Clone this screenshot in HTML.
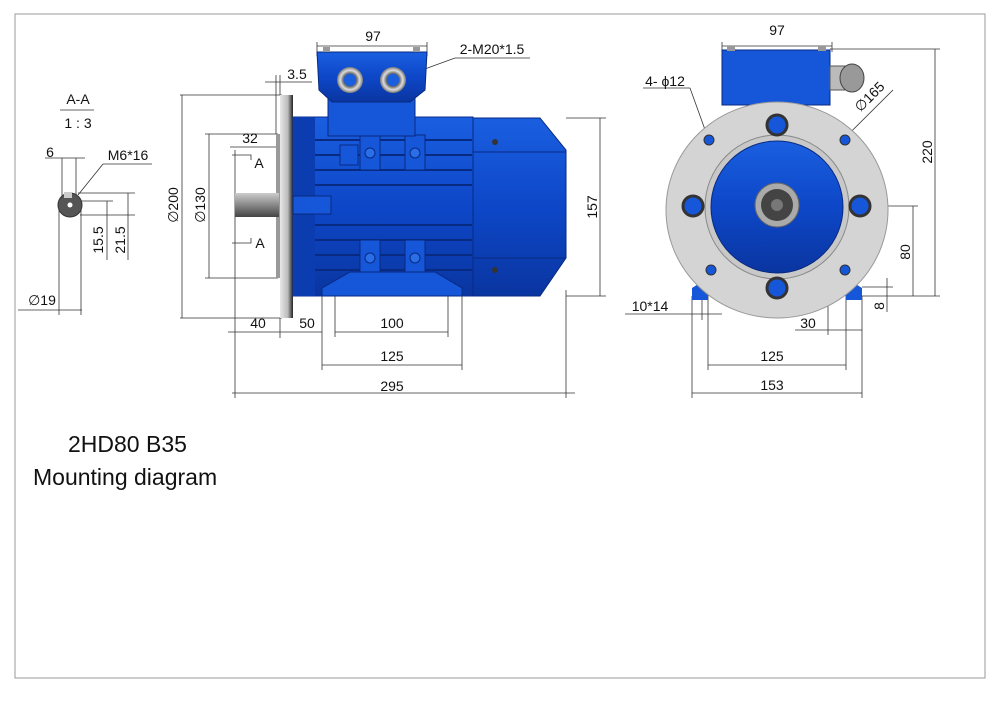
<!DOCTYPE html>
<html><head><meta charset="utf-8"><style>
html,body{margin:0;padding:0;background:#fff;}
svg{display:block;font-family:"Liberation Sans",sans-serif;}
</style></head><body>
<svg width="999" height="706" viewBox="0 0 999 706" xmlns="http://www.w3.org/2000/svg">
<defs>
<linearGradient id="fl" x1="0" x2="1"><stop offset="0" stop-color="#e8e8e8"/><stop offset="0.6" stop-color="#bbb"/><stop offset="1" stop-color="#222"/></linearGradient>
<linearGradient id="sh" x1="0" y1="0" x2="0" y2="1"><stop offset="0" stop-color="#ccc"/><stop offset="0.5" stop-color="#888"/><stop offset="1" stop-color="#444"/></linearGradient>
<linearGradient id="bl" x1="0" y1="0" x2="0" y2="1"><stop offset="0" stop-color="#1a5fe0"/><stop offset="0.5" stop-color="#0d47c8"/><stop offset="1" stop-color="#0a35a0"/></linearGradient>
<radialGradient id="gl"><stop offset="0.45" stop-color="#1a5fe0"/><stop offset="0.5" stop-color="#666"/><stop offset="0.75" stop-color="#ddd"/><stop offset="1" stop-color="#777"/></radialGradient>
</defs>
<rect x="15" y="14" width="970" height="664" fill="none" stroke="#999" stroke-width="1"/>

<g stroke="#333" stroke-width="0.8" fill="none">
<line x1="60" y1="110" x2="94" y2="110"/>
<line x1="62" y1="158" x2="62" y2="196"/><line x1="76" y1="158" x2="76" y2="196"/>
<line x1="45" y1="158" x2="85" y2="158"/>
<line x1="78" y1="195" x2="103" y2="164"/><line x1="103" y1="164" x2="152" y2="164"/>
<line x1="78" y1="193" x2="135" y2="193"/><line x1="78" y1="201" x2="113" y2="201"/>
<line x1="107" y1="201" x2="107" y2="260"/><line x1="128" y1="193" x2="128" y2="260"/>
<line x1="80" y1="215" x2="135" y2="215"/>
<line x1="59" y1="205" x2="59" y2="315"/><line x1="81" y1="205" x2="81" y2="315"/>
<line x1="18" y1="310" x2="82" y2="310"/>
<line x1="317" y1="46" x2="427" y2="46"/><line x1="317" y1="42" x2="317" y2="56"/><line x1="427" y1="42" x2="427" y2="56"/>
<line x1="455" y1="58" x2="530" y2="58"/><line x1="455" y1="58" x2="400" y2="78"/>
<line x1="265" y1="82" x2="312" y2="82"/><line x1="276" y1="75" x2="276" y2="134"/><line x1="280" y1="75" x2="280" y2="95"/>
<line x1="180" y1="95" x2="282" y2="95"/><line x1="180" y1="318" x2="282" y2="318"/><line x1="182" y1="95" x2="182" y2="318"/>
<line x1="205" y1="134" x2="278" y2="134"/><line x1="205" y1="278" x2="278" y2="278"/><line x1="209" y1="134" x2="209" y2="278"/>
<line x1="230" y1="147" x2="276" y2="147"/><line x1="235" y1="150" x2="235" y2="335"/>
<polyline points="232,155 251,155 251,160"/><polyline points="232,243 251,243 251,238"/>
<line x1="228" y1="332" x2="322" y2="332"/><line x1="280" y1="318" x2="280" y2="338"/>
<line x1="322" y1="296" x2="322" y2="370"/><line x1="335" y1="296" x2="335" y2="337"/><line x1="448" y1="296" x2="448" y2="337"/><line x1="462" y1="296" x2="462" y2="370"/>
<line x1="335" y1="332" x2="448" y2="332"/><line x1="322" y1="365" x2="462" y2="365"/>
<line x1="232" y1="393" x2="575" y2="393"/><line x1="235" y1="335" x2="235" y2="398"/><line x1="566" y1="290" x2="566" y2="398"/>
<line x1="566" y1="118" x2="606" y2="118"/><line x1="566" y1="296" x2="606" y2="296"/><line x1="600" y1="118" x2="600" y2="296"/>
<line x1="722" y1="46" x2="832" y2="46"/><line x1="722" y1="42" x2="722" y2="52"/><line x1="832" y1="42" x2="832" y2="52"/>
<line x1="830" y1="49" x2="940" y2="49"/><line x1="862" y1="296" x2="940" y2="296"/><line x1="935" y1="49" x2="935" y2="296"/>
<line x1="800" y1="206" x2="918" y2="206"/><line x1="913" y1="206" x2="913" y2="296"/>
<line x1="862" y1="287" x2="893" y2="287"/><line x1="887" y1="278" x2="887" y2="312"/>
<line x1="643" y1="88" x2="690" y2="88"/><line x1="690" y1="88" x2="708" y2="138"/>
<line x1="893" y1="90" x2="712" y2="270"/>
<line x1="625" y1="314" x2="722" y2="314"/><line x1="702" y1="290" x2="702" y2="320"/><line x1="708" y1="290" x2="708" y2="370"/>
<line x1="828" y1="290" x2="828" y2="335"/><line x1="846" y1="290" x2="846" y2="370"/><line x1="862" y1="296" x2="862" y2="398"/><line x1="692" y1="296" x2="692" y2="398"/>
<line x1="795" y1="330" x2="862" y2="330"/>
<line x1="708" y1="365" x2="846" y2="365"/><line x1="692" y1="393" x2="862" y2="393"/>
</g>

<circle cx="70" cy="205" r="12" fill="#555" stroke="#333"/>
<circle cx="70" cy="205" r="2.5" fill="#fff"/>
<rect x="64" y="192" width="8" height="6" fill="#ccc"/>

<rect x="276" y="134" width="5" height="144" fill="#999"/>
<rect x="280" y="95" width="13" height="223" fill="url(#fl)"/>
<rect x="235" y="193" width="44" height="24" fill="url(#sh)"/>
<rect x="293" y="117" width="180" height="179" fill="url(#bl)" stroke="#0a2f90"/>
<rect x="293" y="117" width="22" height="179" fill="#0b3cb0"/>
<g stroke="#082a80" stroke-width="2">
<line x1="315" y1="140" x2="472" y2="140"/><line x1="315" y1="155" x2="472" y2="155"/><line x1="315" y1="170" x2="472" y2="170"/><line x1="315" y1="185" x2="472" y2="185"/>
<line x1="315" y1="225" x2="472" y2="225"/><line x1="315" y1="240" x2="472" y2="240"/><line x1="315" y1="255" x2="472" y2="255"/><line x1="315" y1="270" x2="472" y2="270"/>
</g>
<rect x="293" y="196" width="38" height="18" fill="#1656d8" stroke="#082a80"/>
<rect x="340" y="145" width="18" height="20" fill="#1656d8" stroke="#082a80"/>
<rect x="360" y="135" width="20" height="35" fill="#1656d8" stroke="#082a80"/><circle cx="370" cy="153" r="5" fill="#2a6ee8" stroke="#082a80"/>
<rect x="405" y="135" width="20" height="35" fill="#1656d8" stroke="#082a80"/><circle cx="415" cy="153" r="5" fill="#2a6ee8" stroke="#082a80"/>
<rect x="360" y="240" width="20" height="32" fill="#1656d8" stroke="#082a80"/><circle cx="370" cy="258" r="5" fill="#2a6ee8" stroke="#082a80"/>
<rect x="405" y="240" width="20" height="32" fill="#1656d8" stroke="#082a80"/><circle cx="415" cy="258" r="5" fill="#2a6ee8" stroke="#082a80"/>
<polygon points="322,296 322,288 350,272 435,272 462,288 462,296" fill="#1656d8" stroke="#082a80"/>
<polygon points="473,118 540,118 566,150 566,258 540,296 473,296" fill="url(#bl)" stroke="#082a80"/>
<line x1="473" y1="152" x2="566" y2="152" stroke="#082a80"/><line x1="473" y1="258" x2="566" y2="258" stroke="#082a80"/>
<circle cx="495" cy="142" r="3" fill="#333"/><circle cx="495" cy="270" r="3" fill="#333"/>
<rect x="328" y="98" width="87" height="38" fill="#1656d8" stroke="#082a80"/>
<polygon points="317,52 427,52 425,90 410,102 332,102 319,90" fill="url(#bl)" stroke="#082a80"/>
<rect x="323" y="47" width="7" height="5" fill="#999"/><rect x="413" y="47" width="7" height="5" fill="#999"/>
<circle cx="350" cy="80" r="13" fill="url(#gl)"/><circle cx="393" cy="80" r="13" fill="url(#gl)"/>

<polygon points="692,300 692,288 700,283 708,288 708,300" fill="#1656d8"/>
<polygon points="846,300 846,288 854,283 862,288 862,300" fill="#1656d8"/>
<rect x="722" y="50" width="108" height="55" fill="#1656d8" stroke="#082a80"/>
<rect x="727" y="46" width="8" height="5" fill="#999"/><rect x="818" y="46" width="8" height="5" fill="#999"/>
<rect x="830" y="66" width="15" height="24" fill="#bbb" stroke="#555"/>
<ellipse cx="852" cy="78" rx="12" ry="14" fill="#999" stroke="#444"/>
<ellipse cx="777" cy="210" rx="111" ry="108" fill="#d4d4d4" stroke="#999"/>
<circle cx="777" cy="207" r="72" fill="#c8c8c8" stroke="#888"/>
<circle cx="777" cy="207" r="66" fill="url(#bl)" stroke="#082a80"/>
<circle cx="777" cy="205" r="22" fill="#aaa" stroke="#666"/>
<circle cx="777" cy="205" r="16" fill="#444"/><circle cx="777" cy="205" r="6" fill="#777"/>
<g fill="#1656d8" stroke="#333" stroke-width="3">
<circle cx="777" cy="125" r="10"/><circle cx="777" cy="288" r="10"/><circle cx="693" cy="206" r="10"/><circle cx="860" cy="206" r="10"/>
</g>
<g fill="#1656d8" stroke="#333" stroke-width="1">
<circle cx="709" cy="140" r="5"/><circle cx="845" cy="140" r="5"/><circle cx="711" cy="270" r="5"/><circle cx="845" cy="270" r="5"/>
</g>

<g fill="#111" font-size="14" text-anchor="middle">
<text x="78" y="104">A-A</text><text x="78" y="128">1 : 3</text>
<text x="50" y="157">6</text><text x="128" y="160">M6*16</text>
<text transform="translate(103,240) rotate(-90)">15.5</text>
<text transform="translate(125,240) rotate(-90)">21.5</text>
<text x="42" y="305">∅19</text>
<text x="373" y="41">97</text><text x="492" y="54">2-M20*1.5</text>
<text x="297" y="79">3.5</text>
<text transform="translate(178,205) rotate(-90)">∅200</text>
<text transform="translate(205,205) rotate(-90)">∅130</text>
<text x="250" y="143">32</text>
<text x="259" y="168">A</text><text x="260" y="248">A</text>
<text x="258" y="328">40</text><text x="307" y="328">50</text><text x="392" y="328">100</text>
<text x="392" y="361">125</text><text x="392" y="391">295</text>
<text transform="translate(597,207) rotate(-90)">157</text>
<text x="777" y="35">97</text>
<text x="665" y="86">4- ϕ12</text>
<text transform="translate(873,100) rotate(-45)">∅165</text>
<text transform="translate(932,152) rotate(-90)">220</text>
<text transform="translate(910,252) rotate(-90)">80</text>
<text transform="translate(884,306) rotate(-90)">8</text>
<text x="650" y="311">10*14</text>
<text x="808" y="328">30</text>
<text x="772" y="361">125</text><text x="772" y="390">153</text>
</g>
<text x="68" y="452" font-size="23" fill="#111">2HD80 B35</text>
<text x="33" y="485" font-size="23" fill="#111">Mounting diagram</text>
</svg>
</body></html>
